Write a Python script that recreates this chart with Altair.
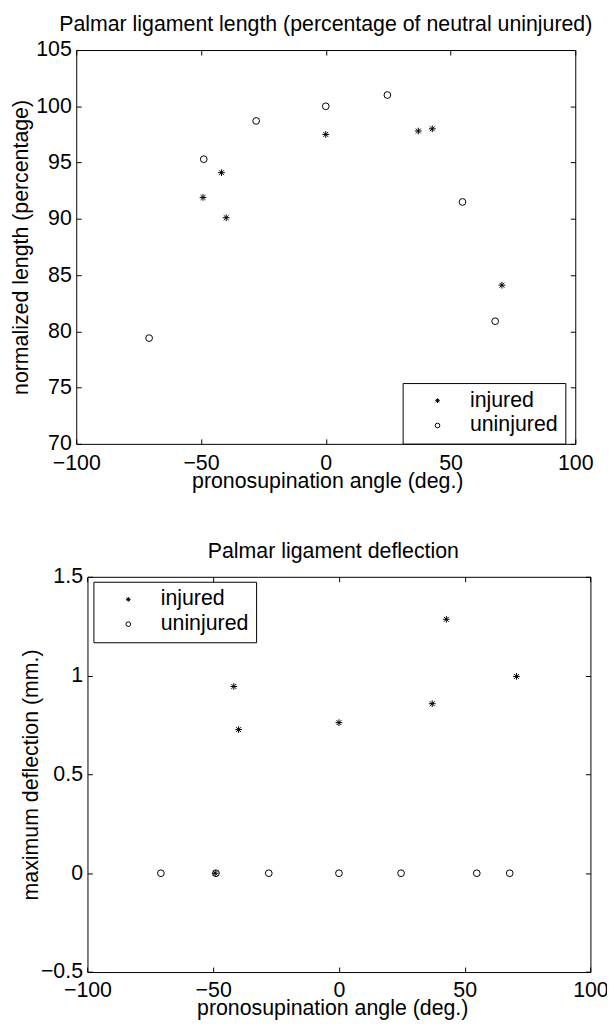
import altair as alt
import pandas as pd

FONT = "Liberation Sans"
FS = 21.5
STAR = "M-1,0L1,0M0,-1L0,1M-0.72,-0.72L0.72,0.72M-0.72,0.72L0.72,-0.72"

# ---- data ----
groups = ["injured", "uninjured"]
angle_injured = [-49.2, -41.8, -39.9, 0.0, 37.1, 42.7, 70.6]
angle_uninjured = [-70.8, -48.9, -27.9, 0.0, 24.7, 54.8, 67.9]
length_injured = [91.9, 94.1, 90.1, 97.5, 97.8, 98.0, 84.1]
length_uninjured = [79.4, 95.3, 98.7, 100.0, 101.0, 91.5, 80.9]
deflection_injured = [0.0, 0.945, 0.727, 0.762, 0.858, 1.285, 0.996]
deflection_uninjured = [0.0, 0.0, 0.0, 0.0, 0.0, 0.0, 0.0]

x_ticks = [-100, -50, 0, 50, 100]
length_ticks = [70, 75, 80, 85, 90, 95, 100, 105]
deflection_ticks = [-0.5, 0, 0.5, 1, 1.5]


def panel_df(inj, uninj):
    return pd.DataFrame({
        "angle": angle_injured + angle_uninjured,
        "value": inj + uninj,
        "group": ["injured"] * len(angle_injured) + ["uninjured"] * len(angle_uninjured),
    })


def panel(df, title, ytitle, ydomain, yticks, yfmt, x0, pw, h, lx, ly,
          xlp, xtitle_xy, ytp):
    width = x0 + pw
    xs = alt.Scale(domain=[-100, 100], range=[x0, x0 + pw], nice=False, zero=False)
    ys = alt.Scale(domain=ydomain, nice=False, zero=False)
    base = alt.Chart(df)

    legend = alt.Legend(
        title=None, orient="none", legendX=lx, legendY=ly, direction="vertical",
        labelFont=FONT, labelFontSize=FS, labelColor="black",
        padding=7, strokeColor="black", fillColor="white",
        symbolSize=22, symbolStrokeColor="black", symbolStrokeWidth=1,
        symbolFillColor="transparent", symbolOffset=17.4, labelOffset=21.9,
        rowPadding=2,
        labelExpr="datum.label + '\u00a0\u00a0\u00a0\u00a0\u2009\u2009'",
    )

    pts = base.mark_point(filled=False, color="black", strokeWidth=1, opacity=1,
                          size=46).encode(
        x=alt.X("angle:Q", scale=xs, axis=alt.Axis(
            orient="bottom", values=x_ticks, format="d", ticks=False, tickSize=0,
            labelPadding=xlp, domain=True, grid=False,
            title="pronosupination angle (deg.)", titleBaseline="alphabetic",
            titleX=xtitle_xy[0], titleY=xtitle_xy[1])),
        y=alt.Y("value:Q", scale=ys, axis=alt.Axis(
            orient="left", offset=-x0, values=yticks, format=yfmt, ticks=False,
            tickSize=0, labelPadding=5, domain=True, grid=False,
            title=ytitle, titlePadding=ytp)),
        shape=alt.Shape("group:N", scale=alt.Scale(domain=groups, range=[STAR, "circle"]),
                        legend=legend),
    )

    ticks_a = base.mark_point(opacity=0).encode(
        x=alt.X("angle:Q", scale=xs, axis=alt.Axis(
            orient="top", offset=-h, values=x_ticks, labels=False, domain=False,
            ticks=True, tickSize=5, grid=False, title=None)),
        y=alt.Y("value:Q", scale=ys, axis=alt.Axis(
            orient="right", offset=-(width - x0), values=yticks, labels=False,
            domain=False, ticks=True, tickSize=5, grid=False, title=None)),
    )

    ticks_b = base.mark_point(opacity=0).encode(
        x=alt.X("angle:Q", scale=xs, axis=alt.Axis(
            orient="bottom", offset=-h, values=x_ticks, labels=False, domain=True,
            ticks=True, tickSize=5, grid=False, title=None)),
        y=alt.Y("value:Q", scale=ys, axis=alt.Axis(
            orient="left", offset=-width, values=yticks, labels=False,
            domain=True, ticks=True, tickSize=5, grid=False, title=None)),
    )

    return alt.layer(pts, ticks_a, ticks_b).resolve_axis(
        x="independent", y="independent"
    ).properties(
        width=width, height=h,
        title=alt.TitleParams(title, anchor="middle", frame="group"),
    )


top = panel(panel_df(length_injured, length_uninjured),
            "Palmar ligament length (percentage of neutral uninjured)",
            "normalized length (percentage)", [70, 105], length_ticks, "d",
            0, 503, 397, 329, 335.7, 8.4, (253, 44), 2.8)

bottom = panel(panel_df(deflection_injured, deflection_uninjured),
               "Palmar ligament deflection",
               "maximum deflection (mm.)", [-0.5, 1.5], deflection_ticks, "~g",
               11.3, 507, 398.4, 17.3, 5, 8, (258, 43), -2)

chart = alt.vconcat(top, bottom, spacing=49).resolve_scale(
    shape="independent"
).resolve_legend(shape="independent").properties(
    padding={"left": 2.8, "top": 2.3, "right": -2, "bottom": 0}
).configure(font=FONT).configure_view(stroke=None).configure_axis(
    labelFont=FONT, labelFontSize=FS, titleFont=FONT, titleFontSize=FS,
    titleFontWeight="normal", labelColor="black", titleColor="black",
    domainColor="black", tickColor="black", domainWidth=1, tickWidth=1,
    labelFlush=False, labelOverlap=False,
).configure_title(
    font=FONT, fontSize=FS, fontWeight="normal", color="black",
    offset=3.2, baseline="alphabetic",
)

chart.save("out.html", embed_options={"renderer": "svg", "actions": False})
